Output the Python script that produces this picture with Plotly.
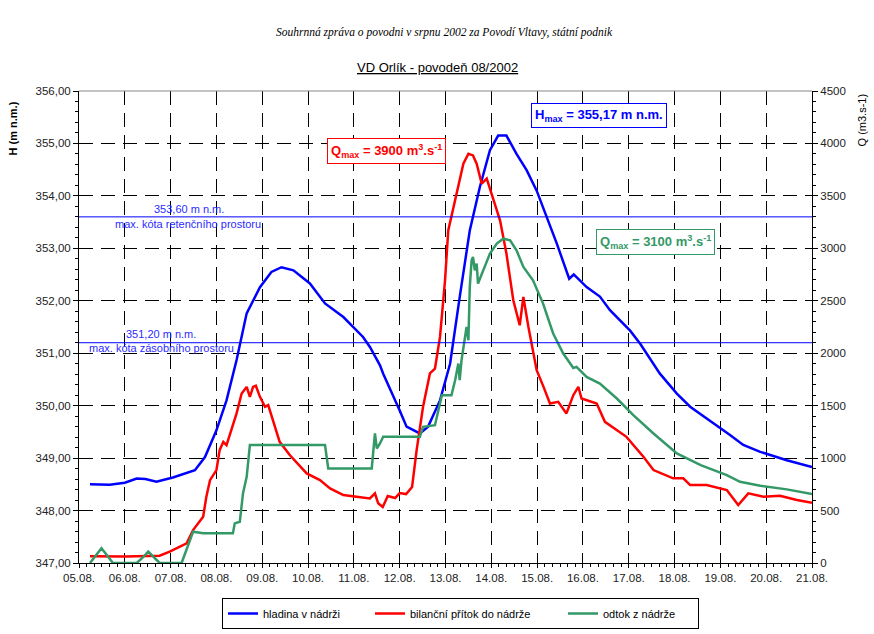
import plotly.graph_objects as go

# ---------------- data ----------------
day_labels = ["05.08.", "06.08.", "07.08.", "08.08.", "09.08.", "10.08.", "11.08.", "12.08.",
              "13.08.", "14.08.", "15.08.", "16.08.", "17.08.", "18.08.", "19.08.", "20.08.", "21.08."]
day_ticks = list(range(5, 22))

# hladina v nádrži (m n.m.)  -- x as day of August
h_t = [5.24, 5.67, 6.0, 6.26, 6.45, 6.69, 7.05, 7.42, 7.53, 7.75, 8.00, 8.22, 8.44, 8.66, 8.95,
       9.20, 9.42, 9.68, 10.04, 10.37, 10.77, 11.20, 11.35, 11.57, 11.64, 12.00, 12.15, 12.44,
       12.62, 12.88, 13.10, 13.31, 13.53, 13.75, 13.97, 14.15, 14.33, 14.55, 14.77, 14.99,
       15.21, 15.32, 15.43, 15.70, 15.80, 15.86, 16.08, 16.37, 16.59, 17.03, 17.25, 17.68,
       18.05, 18.34, 18.70, 19.21, 19.50, 19.87, 20.45, 21.0]
h_v = [348.50, 348.49, 348.53, 348.61, 348.60, 348.55, 348.63, 348.73, 348.77, 349.02, 349.53,
       350.10, 350.87, 351.76, 352.26, 352.55, 352.64, 352.58, 352.33, 351.95, 351.69, 351.31,
       351.12, 350.77, 350.61, 349.91, 349.60, 349.47, 349.60, 350.10, 350.80, 352.07, 353.34,
       354.17, 354.87, 355.15, 355.15, 354.80, 354.49, 354.10, 353.60, 353.34, 353.09, 352.42,
       352.50, 352.45, 352.26, 352.08, 351.82, 351.43, 351.18, 350.61, 350.23, 349.98, 349.76,
       349.44, 349.25, 349.12, 348.96, 348.83]

# bilanční přítok do nádrže (m3/s)
qin_t = [5.24, 6.0, 6.76, 6.98, 7.35, 7.49, 7.71, 7.78, 7.86, 8.00, 8.07, 8.15, 8.22, 8.33, 8.44,
         8.55, 8.66, 8.73, 8.80, 8.86, 8.95, 9.06, 9.13, 9.38, 9.60, 9.97, 10.26, 10.48, 10.77,
         11.06, 11.35, 11.46, 11.53, 11.63, 11.74, 11.90, 12.00, 12.14, 12.27, 12.37, 12.51,
         12.66, 12.77, 12.88, 12.99, 13.06, 13.24, 13.39, 13.50, 13.60, 13.68, 13.79, 13.90,
         14.01, 14.19, 14.33, 14.48, 14.62, 14.70, 14.81, 14.99, 15.14, 15.28, 15.46, 15.64,
         15.79, 15.90, 15.97, 16.30, 16.48, 16.74, 16.95, 17.32, 17.54, 17.97, 18.19, 18.34,
         18.70, 19.14, 19.39, 19.61, 19.94, 20.30, 20.67, 21.0]
qin_v = [65, 62, 70, 108, 187, 314, 441, 631, 790, 886, 1076, 1155, 1124, 1267, 1426,
         1616, 1679, 1584, 1679, 1690, 1584, 1489, 1505, 1155, 1029, 854, 790, 711, 648,
         631, 616, 664, 569, 533, 638, 619, 667, 657, 724, 1076, 1489,
         1807, 1854, 2155, 2695, 3171, 3521, 3807, 3902, 3886, 3807, 3616, 3664,
         3521, 3267, 2950, 2505, 2267, 2536, 2250, 1838, 1679, 1521, 1536, 1426,
         1600, 1679, 1568, 1521, 1346, 1267, 1203, 1013, 886, 807, 807, 743,
         743, 695, 552, 664, 631, 641, 600, 574]

# odtok z nádrže (m3/s)
qout_t = [5.24, 5.36, 5.49, 5.62, 5.74, 6.26, 6.40, 6.51, 6.63, 6.76, 7.24, 7.49, 7.71, 8.36,
          8.40, 8.51, 8.58, 8.66, 8.73, 10.37, 10.44, 11.39, 11.46, 11.50, 11.57, 11.64, 12.44,
          12.51, 12.77, 12.84, 12.92, 13.13, 13.21, 13.28, 13.31, 13.35, 13.42, 13.46, 13.50,
          13.53, 13.57, 13.60, 13.64, 13.68, 13.71, 13.82, 13.97, 14.12, 14.26, 14.41, 14.55,
          14.70, 14.91, 15.13, 15.35, 15.57, 15.79, 15.86, 16.08, 16.37, 16.74, 17.10, 17.54,
          18.05, 18.57, 19.14, 19.43, 19.87, 20.45, 21.0]
qout_v = [0, 70, 140, 70, 0, 0, 55, 108, 55, 0, 0, 298, 283, 283,
          378, 393, 664, 822, 1124, 1124, 902, 902, 1235, 1092, 1140, 1203, 1203,
          1298, 1314, 1457, 1600, 1600, 1743, 1902, 1743, 1935, 2124, 2250, 2124,
          2631, 2886, 2917, 2790, 2855, 2664, 2790, 2950, 3045, 3092, 3076, 2981,
          2822, 2695, 2473, 2188, 1997, 1860, 1870, 1774, 1711, 1568, 1410, 1235,
          1045, 933, 838, 774, 736, 702, 657]

series_names = ["hladina v nádrži", "bilanční přítok do nádrže", "odtok z nádrže"]
retention_level = 353.60
storage_level = 351.20

# ---------------- layout helpers ----------------
W, H = 874, 634
L, R, T, B = 79, 812, 90.5, 563


def px(x):
    return (x - L) / (R - L)


def py(y):
    return (B - y) / (B - T)


FONT = "Liberation Sans, Arial, sans-serif"
BLUE = "#0000FF"
RED = "#FF0000"
GREEN = "#339966"

fig = go.Figure()
fig.add_trace(go.Scatter(x=h_t, y=h_v, mode="lines", name=series_names[0],
                         line=dict(color=BLUE, width=2.5), legendwidth=102))
fig.add_trace(go.Scatter(x=qin_t, y=qin_v, mode="lines", name=series_names[1], yaxis="y2",
                         line=dict(color=RED, width=2.5), legendwidth=148))
fig.add_trace(go.Scatter(x=qout_t, y=qout_v, mode="lines", name=series_names[2], yaxis="y2",
                         line=dict(color=GREEN, width=2.5), legendwidth=90))

grid_dash = "14px,8px"
tick_font = dict(size=11.5, family=FONT, color="#222")
fig.update_layout(
    width=W, height=H,
    margin=dict(l=L, r=W - R, t=T, b=H - B, pad=0, autoexpand=False),
    paper_bgcolor="white", plot_bgcolor="white",
    separators=",.",
    font=dict(family=FONT, size=11, color="#222"),
    xaxis=dict(range=[5, 21], tickmode="array", tickvals=day_ticks, ticktext=day_labels,
               showgrid=True, gridcolor="black", gridwidth=1, griddash=grid_dash,
               showline=True, linecolor="black", linewidth=1, automargin=False,
               ticks="outside", ticklen=4, tickcolor="black", zeroline=False,
               minor=dict(dtick=1 / 6, ticklen=3, tickcolor="black", ticks="outside", showgrid=False),
               tickfont=tick_font),
    yaxis=dict(range=[347, 356], dtick=1, tickformat=".2f", automargin=False,
               showgrid=True, gridcolor="black", gridwidth=1, griddash=grid_dash,
               showline=True, linecolor="black", linewidth=1, zeroline=False,
               ticks="outside", ticklen=5, tickcolor="black",
               minor=dict(dtick=0.2, ticklen=3, tickcolor="black", ticks="outside", showgrid=False),
               tickfont=tick_font),
    yaxis2=dict(range=[0, 4500], dtick=500, overlaying="y", side="right", automargin=False,
                showgrid=False, showline=True, linecolor="black", linewidth=1, zeroline=False,
                ticks="outside", ticklen=5, tickcolor="black", tickformat="d",
                minor=dict(dtick=100, ticklen=3, tickcolor="black", ticks="outside", showgrid=False),
                tickfont=tick_font),
    showlegend=True,
    legend=dict(orientation="h", xref="container", yref="container",
                x=222 / W, xanchor="left", y=1 - 598 / H, yanchor="top",
                bordercolor="black", borderwidth=1, bgcolor="white",
                font=dict(size=11, family=FONT, color="black"),
                itemwidth=30, tracegroupgap=0),
)

# top border (grey)
fig.add_shape(type="line", xref="paper", yref="paper", x0=0, x1=1, y0=1, y1=1,
              line=dict(color="#888", width=1))

# reference levels
for lvl in (retention_level, storage_level):
    fig.add_shape(type="line", xref="paper", yref="y", x0=0, x1=1, y0=lvl, y1=lvl,
                  line=dict(color=BLUE, width=1), layer="above")

ann = []
# titles
ann.append(dict(text="<i>Souhrnná zpráva o povodni v srpnu 2002 za Povodí Vltavy, státní podnik</i>",
                x=px(444), y=py(32), font=dict(family="Liberation Serif, Times New Roman, serif", size=11.5, color="black")))
ann.append(dict(text="<u>VD Orlík - povodeň 08/2002</u>", x=px(437), y=py(67),
                font=dict(family=FONT, size=13, color="black")))
# axis titles
ann.append(dict(text="<b>H (m n.m.)</b>", x=px(13), y=py(128), textangle=-90,
                font=dict(family=FONT, size=11, color="black")))
ann.append(dict(text="Q (m3.s-1)", x=px(862), y=py(120), textangle=-90,
                font=dict(family=FONT, size=11, color="black")))
# level labels
lvl_font = dict(family=FONT, size=11, color="#2b2bff")
ann.append(dict(text="353,60 m n.m.", x=px(188.5), y=py(208.5), font=lvl_font))
ann.append(dict(text="max. kóta retenčního prostoru", x=px(188), y=py(223.5), font=lvl_font))
ann.append(dict(text="351,20 m n.m.", x=px(161), y=py(334), font=lvl_font))
ann.append(dict(text="max. kóta zásobního prostoru", x=px(161), y=py(347.5), font=lvl_font))
# boxes
ann.append(dict(text="<b>Q<sub>max</sub> = 3900 m<sup>3</sup>.s<sup>-1</sup></b>", x=px(386), y=py(151),
                font=dict(family=FONT, size=13, color=RED), bordercolor=RED, borderwidth=1,
                borderpad=3, bgcolor="white"))
ann.append(dict(text="<b>H<sub>max</sub> = 355,17 m n.m.</b>", x=px(599), y=py(115.5),
                font=dict(family=FONT, size=13, color=BLUE), bordercolor=BLUE, borderwidth=1,
                borderpad=3, bgcolor="white"))
ann.append(dict(text="<b>Q<sub>max</sub> = 3100 m<sup>3</sup>.s<sup>-1</sup></b>", x=px(655), y=py(242),
                font=dict(family=FONT, size=13, color=GREEN), bordercolor=GREEN, borderwidth=1,
                borderpad=3, bgcolor="white"))

for a in ann:
    a.setdefault("xref", "paper")
    a.setdefault("yref", "paper")
    a.setdefault("showarrow", False)
    a.setdefault("xanchor", "center")
    a.setdefault("yanchor", "middle")
    fig.add_annotation(**a)

fig.write_html("out.html", config={"displayModeBar": False},
               post_script="document.body.style.margin='0';")
